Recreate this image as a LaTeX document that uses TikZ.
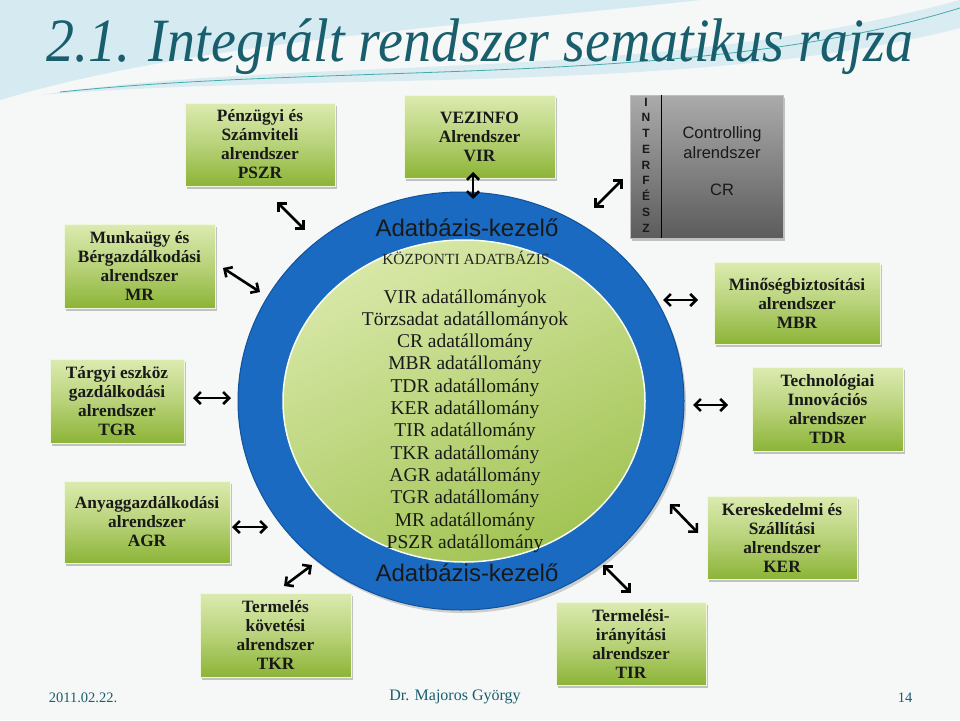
\documentclass[tikz,border=0pt]{standalone}
\usepackage{fontspec}
\setmainfont{Liberation Serif}
\setsansfont{Liberation Sans}
\usetikzlibrary{arrows.meta,shadows,shapes.geometric}

\definecolor{titleteal}{RGB}{24,94,108}
\definecolor{paper}{RGB}{246,247,247}
\definecolor{swoosh}{RGB}{205,232,240}
\definecolor{swooshline}{RGB}{70,170,170}
\definecolor{ringblue}{RGB}{25,106,192}
\definecolor{ringedge}{RGB}{16,82,156}
\definecolor{boxlight}{RGB}{220,235,176}
\definecolor{boxdark}{RGB}{140,180,55}
\definecolor{dblight}{RGB}{216,232,168}
\definecolor{dbdark}{RGB}{162,196,84}

\begin{document}
\begin{tikzpicture}[x=1pt,y=-1pt,
    subsys/.style={draw=boxlight!40!white, line width=1pt, top color=boxlight,
      bottom color=boxdark, middle color=boxlight!55!boxdark, align=center,
      inner sep=0pt, text=black!90,
      font=\fontsize{17.3}{19}\selectfont\bfseries,
      drop shadow={opacity=0.45, shadow xshift=2pt, shadow yshift=-2.5pt}},
    grey/.style={draw=black!25, line width=0.8pt, top color=black!33,
      bottom color=black!64, inner sep=0pt,
      drop shadow={opacity=0.45, shadow xshift=2pt, shadow yshift=-2.5pt}},
    dblarrow/.style={{Straight Barb[length=6pt,width=12pt]}-{Straight Barb[length=6pt,width=12pt]},
      line width=2.6pt, black}]

  % background
  \fill[paper] (0,0) rectangle (960,720);
  \useasboundingbox (0,0) rectangle (960,720);
  \fill[swoosh, opacity=0.8] (0,0) -- (700,0) .. controls (480,25) and (200,40) .. (0,100) -- cycle;
  \fill[swoosh, opacity=0.7] (40,95) .. controls (300,55) and (650,85) .. (960,0)
      -- (960,28) .. controls (700,95) and (320,72) .. (40,95) -- cycle;
  \draw[swooshline, line width=0.8pt] (60,92) .. controls (350,62) and (700,88) .. (960,8);

  % title
  \node[text=titleteal, font=\fontsize{56}{60}\selectfont\itshape, yscale=1.1] (title) at (480,47)
    {2.1. Integrált rendszer sematikus rajza};

  % central database
  \node[ellipse, fill=ringblue, draw=ringedge, line width=1pt, minimum width=446pt,
    minimum height=418pt, inner sep=0pt,
    drop shadow={opacity=0.35, shadow xshift=2pt, shadow yshift=-3pt}] (ring) at (461,401) {};
  \node[ellipse, top color=dblight, bottom color=dbdark, shading angle=25, draw=white!85!dblight,
    line width=1.5pt, minimum width=362pt, minimum height=322pt, inner sep=0pt] (core) at (464,401) {};

  \node[font=\sffamily\fontsize{24}{26}\selectfont, text=black!90] (dbtop) at (467,228) {Adatbázis-kezelő};
  \node[font=\sffamily\fontsize{24}{26}\selectfont, text=black!90] (dbbottom) at (467,573) {Adatbázis-kezelő};
  \node[font=\fontsize{15.5}{17}\selectfont, text=black!85] (central) at (466,258) {KÖZPONTI ADATBÁZIS};
  \node[font=\fontsize{19.5}{22.3}\selectfont, align=center, text=black!90] (files) at (465,421)
    {VIR adatállományok\\Törzsadat adatállományok\\CR adatállomány\\MBR adatállomány\\
     TDR adatállomány\\KER adatállomány\\TIR adatállomány\\TKR adatállomány\\
     AGR adatállomány\\TGR adatállomány\\MR adatállomány\\PSZR adatállomány};

  % subsystems
  \node[subsys, minimum width=150pt, minimum height=83pt] (pszr) at (260,144.5)
    {Pénzügyi és\\Számviteli\\alrendszer\\PSZR};
  \node[subsys, minimum width=151pt, minimum height=84pt] (mr) at (139.5,266)
    {Munkaügy és\\Bérgazdálkodási\\alrendszer\\MR};
  \node[subsys, minimum width=134pt, minimum height=84pt] (tgr) at (117,401)
    {Tárgyi eszköz\\gazdálkodási\\alrendszer\\TGR};
  \node[subsys, minimum width=166pt, minimum height=82pt] (agr) at (147,522)
    {Anyaggazdálkodási\\alrendszer\\AGR};
  \node[subsys, minimum width=151pt, minimum height=84pt] (tkr) at (275.5,635)
    {Termelés\\követési\\alrendszer\\TKR};
  \node[subsys, minimum width=151pt, minimum height=83pt] (vir) at (479.5,136.5)
    {VEZINFO\\Alrendszer\\VIR};
  \node[subsys, minimum width=166pt, minimum height=82pt] (mbr) at (797,303)
    {Minőségbiztosítási\\alrendszer\\MBR};
  \node[subsys, minimum width=151pt, minimum height=84pt] (tdr) at (827.5,409)
    {Technológiai\\Innovációs\\alrendszer\\TDR};
  \node[subsys, minimum width=150pt, minimum height=83pt] (ker) at (782,537.5)
    {Kereskedelmi és\\Szállítási\\alrendszer\\KER};
  \node[subsys, minimum width=150pt, minimum height=83pt] (tir) at (631,643.5)
    {Termelési-\\irányítási\\alrendszer\\TIR};

  % controlling with interface strip
  \node[grey, minimum width=153pt, minimum height=143pt] (cr) at (706.5,166.5) {};
  \draw[black, line width=1.3pt] (cr.north west) ++(32,0) coordinate (split-top) -- (split-top |- cr.south);
  \node[font=\sffamily\bfseries\fontsize{12}{15.75}\selectfont, align=center, text=black!90] (iface) at (646,165)
    {I\\N\\T\\E\\R\\F\\É\\S\\Z};
  \node[font=\sffamily\fontsize{16.5}{20}\selectfont, align=center, text=black!90] (crtext) at (722,161)
    {Controlling\\alrendszer\\[17pt]CR};

  % arrows
  \coordinate (pszr-a) at (277,202);  \coordinate (pszr-b) at (305,230);
  \coordinate (mr-a) at (223,268);    \coordinate (mr-b) at (260,292);
  \coordinate (tgr-a) at (193,398);   \coordinate (tgr-b) at (231,398);
  \coordinate (agr-a) at (232,527);   \coordinate (agr-b) at (268,527);
  \coordinate (tkr-a) at (284,586);   \coordinate (tkr-b) at (312,565);
  \coordinate (vir-a) at (473,172);   \coordinate (vir-b) at (473,199);
  \coordinate (cr-a) at (594,208);    \coordinate (cr-b) at (623,179);
  \coordinate (mbr-a) at (663,300);   \coordinate (mbr-b) at (698,300);
  \coordinate (tdr-a) at (693,405);   \coordinate (tdr-b) at (728,405);
  \coordinate (ker-a) at (670,504);   \coordinate (ker-b) at (698,533);
  \coordinate (tir-a) at (603,565);   \coordinate (tir-b) at (631,593);

  \draw[dblarrow] (pszr-a) -- (pszr-b);
  \draw[dblarrow] (mr-a) -- (mr-b);
  \draw[dblarrow] (tgr-a) -- (tgr-b);
  \draw[dblarrow] (agr-a) -- (agr-b);
  \draw[dblarrow] (tkr-a) -- (tkr-b);
  \draw[dblarrow] (vir-a) -- (vir-b);
  \draw[dblarrow] (cr-a) -- (cr-b);
  \draw[dblarrow] (mbr-a) -- (mbr-b);
  \draw[dblarrow] (tdr-a) -- (tdr-b);
  \draw[dblarrow] (ker-a) -- (ker-b);
  \draw[dblarrow] (tir-a) -- (tir-b);

  % footer
  \node[text=titleteal, font=\fontsize{14.5}{16}\selectfont] (date) at (83,698) {2011.02.22.};
  \node[text=titleteal, font=\fontsize{16}{18}\selectfont] (author) at (455,697) {Dr. Majoros György};
  \node[text=titleteal, font=\fontsize{14.5}{16}\selectfont] (page) at (905,698) {14};
\end{tikzpicture}
\end{document}
